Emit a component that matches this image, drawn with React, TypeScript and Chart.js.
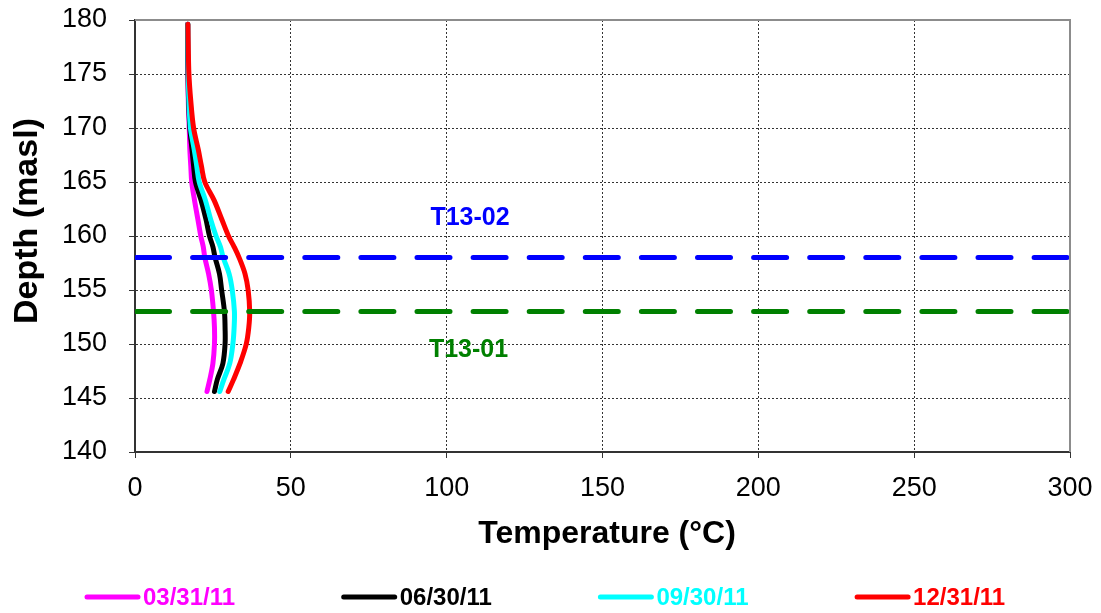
import React, { useEffect, useRef } from "react";
import { Chart, registerables } from "chart.js";

Chart.register(...registerables);

// ---------- data ----------
const depths = [179.6, 177.5, 175, 172.5, 170, 168, 166.5, 165, 163.3, 161.5, 160, 159, 158, 156.5, 155, 153, 151.5, 150, 148.2, 146.7, 145.6];
const temp033111 = [16.9, 16.9, 17.0, 17.1, 17.4, 17.6, 17.9, 18.2, 19.1, 20.2, 21.1, 21.9, 22.4, 23.6, 24.5, 25.2, 25.5, 25.5, 25.0, 24.0, 23.1];
const temp063011 = [16.9, 16.9, 17.0, 17.2, 17.6, 18.3, 18.8, 19.4, 21.2, 22.8, 23.9, 25.0, 25.7, 27.1, 27.8, 28.7, 28.9, 28.9, 28.2, 26.4, 25.5];
const temp093011 = [17.0, 17.0, 17.1, 17.3, 17.8, 19.0, 19.8, 20.6, 22.6, 24.3, 26.0, 27.4, 28.3, 30.2, 31.2, 31.9, 31.8, 31.4, 30.4, 28.5, 27.2];
const temp123111 = [17.0, 17.1, 17.3, 17.9, 18.8, 20.3, 21.3, 22.4, 25.4, 27.9, 30.0, 31.8, 33.4, 35.3, 36.3, 36.8, 36.5, 35.7, 33.7, 31.6, 29.9];

const seriesLabels = ["03/31/11", "06/30/11", "09/30/11", "12/31/11"];
const seriesColors = ["#FF00FF", "#000000", "#00FFFF", "#FF0000"];
const seriesTemps = [temp033111, temp063011, temp093011, temp123111];

const markerLabels = ["T13-02", "T13-01"];
const markerDepths = [158, 153];
const markerColors = ["#0000FF", "#008000"];
const markerLabelTemps = [107.5, 107];
const markerLabelDepths = [161.7, 149.4];

const xMin = 0, xMax = 300, xStep = 50;
const yMin = 140, yMax = 180, yStep = 5;
const xTitle = "Temperature (°C)";
const yTitle = "Depth (masl)";

const FONT = "'Liberation Sans', Arial, sans-serif";

export default function App() {
  const ref = useRef<HTMLCanvasElement | null>(null);

  useEffect(() => {
    if (!ref.current) return;

    const curveSets = seriesLabels.map((label, i) => ({
      label,
      data: depths.map((d, k) => ({ x: seriesTemps[i][k], y: d })),
      borderColor: seriesColors[i],
      backgroundColor: seriesColors[i],
      borderWidth: 5,
      pointRadius: 0,
      showLine: true,
      tension: 0.35,
      borderCapStyle: "round" as const,
      borderJoinStyle: "round" as const,
      order: 4 - i,
    }));

    const markerSets = markerLabels.map((label, i) => ({
      label,
      data: [
        { x: xMin, y: markerDepths[i] },
        { x: xMax, y: markerDepths[i] },
      ],
      borderColor: markerColors[i],
      backgroundColor: markerColors[i],
      borderWidth: 5,
      pointRadius: 0,
      showLine: true,
      borderDash: [33, 23.1],
      borderDashOffset: -1.5,
      borderCapStyle: "round" as const,
      order: 0,
    }));

    const extras = {
      id: "extras",
      afterDatasetsDraw(chart: any) {
        const { ctx, chartArea } = chart;
        ctx.save();
        ctx.strokeStyle = "#8c8c8c";
        ctx.lineWidth = 2;
        ctx.beginPath();
        ctx.moveTo(chartArea.left, chartArea.top);
        ctx.lineTo(chartArea.right, chartArea.top);
        ctx.lineTo(chartArea.right, chartArea.bottom);
        ctx.stroke();
        ctx.restore();
      },
      afterDraw(chart: any) {
        const { ctx, scales } = chart;
        ctx.save();
        // axis titles
        ctx.fillStyle = "#000";
        ctx.font = `bold 32px ${FONT}`;
        ctx.textAlign = "center";
        ctx.textBaseline = "middle";
        ctx.fillText(xTitle, 607, 534);
        ctx.save();
        ctx.font = `bold 34px ${FONT}`;
        ctx.translate(28, 221);
        ctx.rotate(-Math.PI / 2);
        ctx.fillText(yTitle, 0, 0);
        ctx.restore();
        // marker labels
        ctx.font = `bold 25px ${FONT}`;
        markerLabels.forEach((t, i) => {
          ctx.fillStyle = markerColors[i];
          ctx.fillText(
            t,
            scales.x.getPixelForValue(markerLabelTemps[i]),
            scales.y.getPixelForValue(markerLabelDepths[i])
          );
        });
        // legend
        const ly = 597;
        const startX = 85;
        const spacing = 256.7;
        ctx.font = `bold 24px ${FONT}`;
        ctx.textAlign = "left";
        seriesLabels.forEach((t, i) => {
          const lx = startX + i * spacing;
          ctx.strokeStyle = seriesColors[i];
          ctx.lineWidth = 5;
          ctx.lineCap = "round";
          ctx.beginPath();
          ctx.moveTo(lx + 2, ly);
          ctx.lineTo(lx + 53, ly);
          ctx.stroke();
          ctx.fillStyle = seriesColors[i];
          ctx.fillText(t, lx + 58, ly + 1);
        });
        ctx.restore();
      },
    };

    const gridOpts = {
      color: "#333",
      lineWidth: 1,
      tickLength: 6,
      tickColor: "#333",
      tickWidth: 1,
      tickBorderDash: [],
    } as any;
    const borderOpts = { display: true, color: "#333", width: 2, dash: [2, 2] } as any;

    const chart = new Chart(ref.current, {
      type: "scatter",
      data: { datasets: [...markerSets, ...curveSets] as any },
      options: {
        responsive: false,
        animation: false,
        layout: { padding: { top: 20, right: 31, bottom: 0, left: 0 } },
        plugins: {
          legend: { display: false },
          tooltip: { enabled: false },
        },
        scales: {
          x: {
            type: "linear",
            min: xMin,
            max: xMax,
            afterFit: (s: any) => {
              s.height = 161;
              s.paddingLeft = 0;
              s.paddingRight = 0;
            },
            ticks: {
              stepSize: xStep,
              color: "#000",
              font: { family: FONT, size: 27 },
              padding: 14,
              maxRotation: 0,
            },
            grid: gridOpts,
            border: borderOpts,
          },
          y: {
            type: "linear",
            min: yMin,
            max: yMax,
            afterFit: (s: any) => {
              s.width = 135;
              s.paddingTop = 0;
              s.paddingBottom = 0;
            },
            ticks: {
              stepSize: yStep,
              color: "#000",
              font: { family: FONT, size: 27 },
              padding: 22,
            },
            grid: gridOpts,
            border: borderOpts,
          },
        },
      },
      plugins: [extras],
    });

    return () => chart.destroy();
  }, []);

  return (
    <div style={{ position: "absolute", left: 0, top: 0, width: 1101, height: 613, background: "#fff" }}>
      <canvas ref={ref} width={1101} height={613} />
    </div>
  );
}
